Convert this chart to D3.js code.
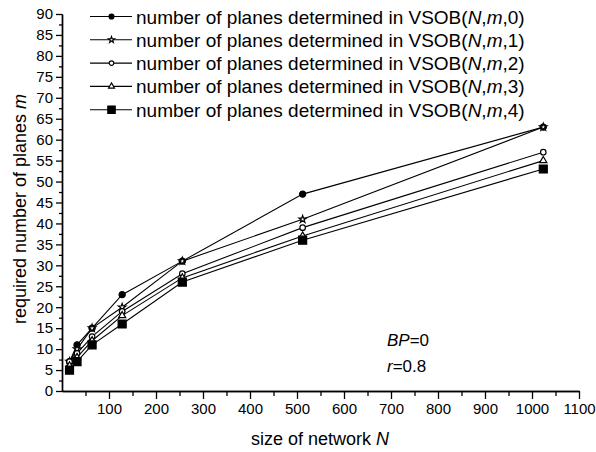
<!DOCTYPE html>
<html>
<head>
<meta charset="utf-8">
<script src="https://cdn.jsdelivr.net/npm/d3@7"></script>
<style>
  body { margin: 0; background: #fff; }
  text { font-family: "Liberation Sans", Arial, sans-serif; fill: #000; }
</style>
</head>
<body>
<div id="chart"></div>
<script>
// network sizes N
var sizes = [16, 32, 64, 128, 256, 512, 1024];
// required number of planes m for VSOB(N,m,k), k = 0..4
var vsob0 = [7, 11, 15, 23, 31, 47, 63];
var vsob1 = [7, 10, 15, 20, 31, 41, 63];
var vsob2 = [7, 9, 13, 19, 28, 39, 57];
var vsob3 = [6, 8, 12, 18, 27, 37, 55];
var vsob4 = [5, 7, 11, 16, 26, 36, 53];
var seriesNames = ["0", "1", "2", "3", "4"];
var xTicks = [100, 200, 300, 400, 500, 600, 700, 800, 900, 1000, 1100];
var yTicks = [0, 5, 10, 15, 20, 25, 30, 35, 40, 45, 50, 55, 60, 65, 70, 75, 80, 85, 90];

var width = 596, height = 452;
var svg = d3.select("#chart").append("svg").attr("width", width).attr("height", height);

var x = d3.scaleLinear().domain([0, 1100]).range([62, 579]);
var y = d3.scaleLinear().domain([0, 90]).range([391, 14]);

var series = [vsob0, vsob1, vsob2, vsob3, vsob4];
var markers = [
  {type: d3.symbolCircle, size: 30, legend: 20, fill: "#000"},
  {type: d3.symbolStar, size: 17, legend: 12, fill: "#fff"},
  {type: d3.symbolCircle, size: 24, legend: 16, fill: "#fff"},
  {type: d3.symbolTriangle, size: 22, legend: 16, fill: "#fff"},
  {type: d3.symbolSquare, size: 64, legend: 56, fill: "#000"}
];

// minor ticks first, then the main axes
svg.append("g").attr("transform", "translate(0,391)")
  .call(d3.axisBottom(x).tickValues(d3.range(50, 1100, 100)).tickSize(5).tickSizeOuter(0).tickFormat(""));
svg.append("g").attr("transform", "translate(62,0)")
  .call(d3.axisLeft(y).tickValues(d3.range(2.5, 90, 5)).tickSize(3).tickSizeOuter(0).tickFormat(""));
svg.append("g").attr("transform", "translate(0,391)")
  .call(d3.axisBottom(x).tickValues(xTicks).tickSize(8).tickSizeOuter(0).tickPadding(4).tickFormat(d3.format("d")));
svg.append("g").attr("transform", "translate(62,0)")
  .call(d3.axisLeft(y).tickValues(yTicks).tickSize(6).tickSizeOuter(0).tickPadding(3));

svg.selectAll(".domain").attr("stroke", "#000").attr("stroke-width", 1.4);
svg.selectAll(".tick line").attr("stroke", "#000").attr("stroke-width", 1.3);
svg.selectAll(".tick text").style("font-size", "15px").style("font-family", "Liberation Sans, Arial, sans-serif");

// lines and markers
var line = d3.line().x(function(d, i) { return x(sizes[i]); }).y(function(d) { return y(d); });
series.forEach(function(vals) {
  svg.append("path").datum(vals).attr("d", line)
    .attr("fill", "none").attr("stroke", "#000").attr("stroke-width", 1.1);
});
series.forEach(function(vals, k) {
  var mk = markers[k];
  svg.append("g").selectAll("path").data(vals).enter().append("path")
    .attr("d", d3.symbol().type(mk.type).size(mk.size))
    .attr("transform", function(d, i) { return "translate(" + x(sizes[i]) + "," + y(d) + ")"; })
    .attr("fill", mk.fill).attr("stroke", "#000").attr("stroke-width", 1.2);
});

// legend
var legend = svg.append("g");
seriesNames.forEach(function(name, k) {
  var ly = 16.5 + k * 23.3;
  var mk = markers[k];
  legend.append("line").attr("x1", 90).attr("x2", 132).attr("y1", ly).attr("y2", ly)
    .attr("stroke", "#000").attr("stroke-width", 1.1);
  legend.append("path").attr("d", d3.symbol().type(mk.type).size(mk.legend))
    .attr("transform", "translate(111.5," + ly + ")")
    .attr("fill", mk.fill).attr("stroke", "#000").attr("stroke-width", 1.1);
  var t = legend.append("text").attr("x", 136).attr("y", ly + 7).style("font-size", "19px");
  t.append("tspan").text("number of planes determined in VSOB(");
  t.append("tspan").style("font-style", "italic").text("N");
  t.append("tspan").text(",");
  t.append("tspan").style("font-style", "italic").text("m");
  t.append("tspan").text("," + name + ")");
});

// annotations
var a1 = svg.append("text").attr("x", 387).attr("y", 346).style("font-size", "17px");
a1.append("tspan").style("font-style", "italic").text("BP");
a1.append("tspan").text("=0");
var a2 = svg.append("text").attr("x", 387).attr("y", 372).style("font-size", "17px");
a2.append("tspan").style("font-style", "italic").text("r");
a2.append("tspan").text("=0.8");

// axis titles
var xt = svg.append("text").attr("x", 320).attr("y", 445).attr("text-anchor", "middle").style("font-size", "18px");
xt.append("tspan").text("size of network ");
xt.append("tspan").style("font-style", "italic").text("N");
var yt = svg.append("text").attr("transform", "translate(26,209) rotate(-90)").attr("text-anchor", "middle").style("font-size", "18px");
yt.append("tspan").text("required number of planes ");
yt.append("tspan").style("font-style", "italic").text("m");
</script>
</body>
</html>
